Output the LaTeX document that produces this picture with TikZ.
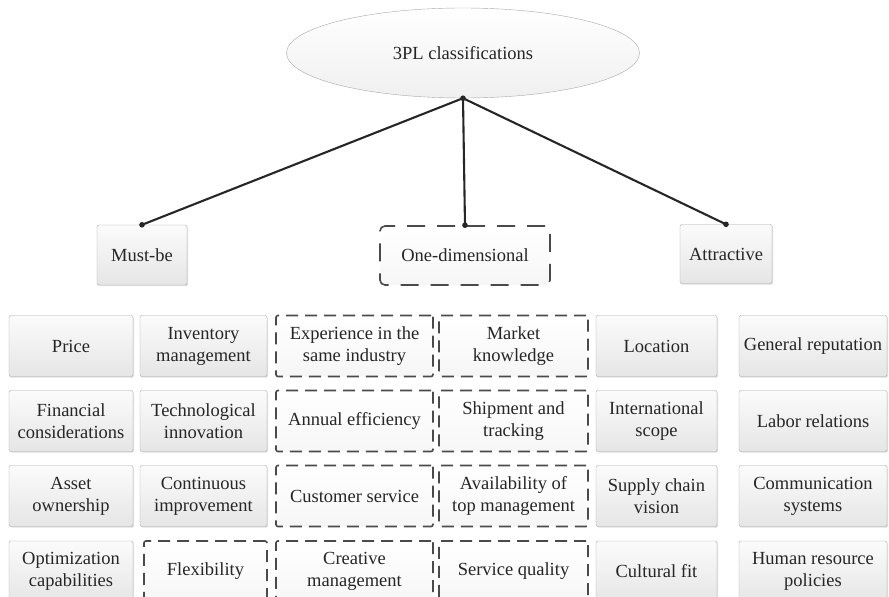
\documentclass[tikz,border=0pt]{standalone}
\usepackage{fontspec}
\setmainfont{Liberation Serif}
\usetikzlibrary{shapes.geometric,shadows}
\definecolor{boxLine}{HTML}{A8A8A8}
\definecolor{dashLine}{HTML}{4A4A4A}
\definecolor{linkDark}{HTML}{262626}

\begin{document}
\begin{tikzpicture}[x=1pt,y=-1pt, font=\fontsize{18.5}{22}\selectfont, text=black!85,
  solidbox/.style={draw=boxLine,rounded corners=2pt,top color=gray!3,bottom color=gray!20,
    align=center,inner sep=0pt,minimum height=61pt,
    drop shadow={opacity=0.25,shadow xshift=1pt,shadow yshift=-1.2pt}},
  dashbox/.style={draw=dashLine,line width=1.6pt,dash pattern=on 12pt off 7pt,rounded corners=2pt,
    top color=white,bottom color=gray!7,align=center,inner sep=0pt,minimum height=61pt},
  link/.style={linkDark,line width=2.1pt},
  dot/.style={fill=linkDark}]
\useasboundingbox (0,0) rectangle (889,597);
\clip (0,0) rectangle (889,597);
% --- root and classes ---
  \node[ellipse,draw=boxLine,top color=white,bottom color=gray!12,inner sep=0pt,
    minimum width=353pt,minimum height=90pt] (root) at (463,53) {3PL classifications};
  \node[solidbox,minimum width=90pt,minimum height=60pt] (mustbe) at (142,255) {Must-be};
  \node[dashbox,dash pattern=on 18pt off 12pt,minimum width=170pt,minimum height=59pt,
    rounded corners=5pt] (onedim) at (465,255.5) {One-dimensional};
  \node[solidbox,minimum width=92pt,minimum height=59pt] (attr) at (726,254) {Attractive};
  \draw[link] (root.south) -- (mustbe.north);
  \draw[link] (root.south) -- (onedim.north);
  \draw[link] (root.south) -- (attr.north);
  \fill[dot] (root.south) circle (2.8);
  \fill[dot] (mustbe.north) circle (2.8);
  \fill[dot] (onedim.north) circle (2.8);
  \fill[dot] (attr.north) circle (2.8);
% --- row 1 ---
  \node[solidbox,minimum width=124pt] (price) at (71,346) {Price};
  \node[solidbox,minimum width=127pt] (invm) at (203.5,346) {Inventory\\management};
  \node[dashbox,minimum width=157pt] (expi) at (354.5,346) {Experience in the\\same industry};
  \node[dashbox,minimum width=149pt] (mknow) at (513.5,346) {Market\\knowledge};
  \node[solidbox,minimum width=121pt] (loc) at (656.5,346) {Location};
  \node[solidbox,minimum width=148pt] (grep) at (813,346) {General reputation};
% --- row 2 ---
  \node[solidbox,minimum width=124pt] (fin) at (71,421) {Financial\\considerations};
  \node[solidbox,minimum width=127pt] (tech) at (203.5,421) {Technological\\innovation};
  \node[dashbox,minimum width=157pt] (annual) at (354.5,421) {Annual efficiency};
  \node[dashbox,minimum width=149pt] (ship) at (513.5,421) {Shipment and\\tracking};
  \node[solidbox,minimum width=121pt] (intl) at (656.5,421) {International\\scope};
  \node[solidbox,minimum width=148pt] (labor) at (813,421) {Labor relations};
% --- row 3 ---
  \node[solidbox,minimum width=124pt] (asset) at (71,496) {Asset\\ownership};
  \node[solidbox,minimum width=127pt] (contimp) at (203.5,496) {Continuous\\improvement};
  \node[dashbox,minimum width=157pt] (cust) at (354.5,496) {Customer service};
  \node[dashbox,minimum width=149pt] (avail) at (513.5,496) {Availability of\\top management};
  \node[solidbox,minimum width=121pt] (scv) at (656.5,496) {Supply chain\\vision};
  \node[solidbox,minimum width=148pt] (comm) at (813,496) {Communication\\systems};
% --- row 4 ---
  \node[solidbox,minimum width=124pt] (optim) at (71,571.5) {Optimization\\capabilities};
  \node[dashbox,minimum width=123pt] (flex) at (205.5,571.5) {Flexibility};
  \node[dashbox,minimum width=157pt] (creat) at (354.5,571.5) {Creative\\management};
  \node[dashbox,minimum width=149pt] (servq) at (513.5,571.5) {Service quality};
  \node[solidbox,minimum width=121pt] (cult) at (656.5,571.5) {Cultural fit};
  \node[solidbox,minimum width=148pt] (hrp) at (813,571.5) {Human resource\\policies};
\end{tikzpicture}
\end{document}
